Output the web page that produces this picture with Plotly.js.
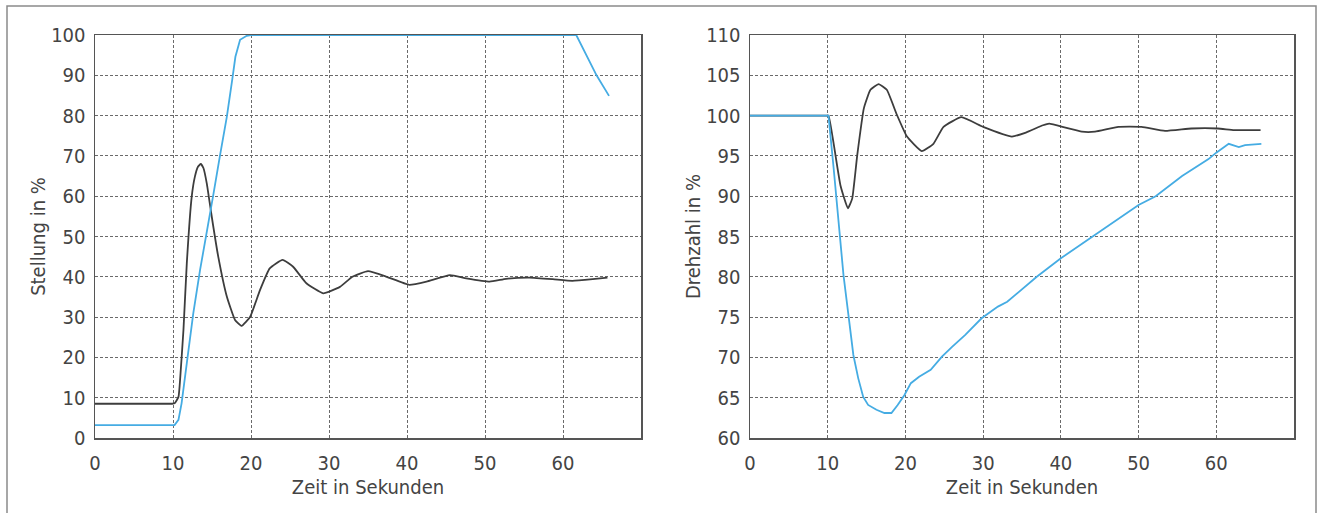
<!DOCTYPE html>
<html>
<head>
<meta charset="utf-8">
<script src="https://cdn.plot.ly/plotly-3.0.1.min.js"></script>
<style>html,body{margin:0;padding:0;background:#fff;}#chart{width:1320px;height:513px;}</style>
</head>
<body>
<div id="chart"></div>
<script>
// Left chart: Stellung (position) in %
const leftBlackT = [0, 3, 6, 9, 9.9, 10.2, 10.7, 11.0, 11.34, 11.77, 12.4, 12.8, 13.2, 13.56, 13.9, 14.33, 14.97, 15.8, 16.9, 17.95, 18.8, 19.9, 21.15, 22.4, 24.05, 25.4, 27.1, 29.25, 31.4, 33.0, 35.0, 37.4, 40.3, 42.5, 45.5, 47.6, 50.6, 52.7, 55.7, 58.7, 61.2, 63.8, 65.7];
const leftBlackV = [8.5, 8.5, 8.5, 8.5, 8.5, 8.6, 10.2, 17, 26.8, 43.4, 59.9, 64.8, 67.3, 68.0, 67.0, 63.2, 54.9, 45.0, 35.1, 29.3, 27.8, 30.1, 36.7, 42.1, 44.2, 42.5, 38.4, 35.9, 37.5, 40.0, 41.4, 40.0, 38.0, 38.8, 40.4, 39.6, 38.8, 39.5, 39.8, 39.4, 39.0, 39.4, 39.8];
const leftBlueT = [0, 10.2, 10.7, 11.1, 11.77, 12.6, 13.47, 14.33, 15.2, 16.0, 16.9, 17.6, 18.0, 18.6, 19.45, 20.0, 61.7, 64.3, 65.9];
const leftBlueV = [3.2, 3.2, 4.5, 8.6, 18.6, 30.9, 41.7, 50.8, 60.7, 69.8, 79.7, 89.0, 94.6, 98.8, 99.8, 100, 100, 90, 84.9];

// Right chart: Drehzahl (speed) in %
const rightBlackT = [0, 3, 6, 9, 9.8, 10.1, 10.8, 11.65, 12.6, 13.15, 13.8, 14.65, 15.5, 16.55, 17.6, 18.9, 20.2, 22.1, 23.6, 24.9, 27.2, 30.0, 33.7, 35.5, 37.7, 38.5, 40.6, 42.7, 44.4, 47.4, 50.4, 53.4, 56.8, 60.2, 62.3, 65.7];
const rightBlackV = [100, 100, 100, 100, 100, 100, 96.3, 91.3, 88.5, 89.7, 95.1, 100.9, 103.2, 103.9, 103.2, 100.1, 97.4, 95.6, 96.5, 98.6, 99.8, 98.6, 97.4, 97.9, 98.8, 99.0, 98.5, 98.0, 98.0, 98.6, 98.6, 98.1, 98.4, 98.4, 98.2, 98.2];
const rightBlueT = [0, 10.1, 10.76, 11.4, 12.03, 12.66, 13.3, 13.93, 14.57, 15.2, 16.27, 17.3, 18.2, 19.0, 19.86, 20.7, 21.76, 23.25, 24.7, 26.0, 27.7, 29.8, 31.9, 33.1, 36.9, 40.0, 44.1, 47.5, 50.0, 52.2, 55.6, 59.0, 60.0, 61.6, 62.0, 62.9, 63.7, 65.8];
const rightBlueV = [100, 100, 93.5, 86.85, 80.2, 75.3, 70.3, 67.4, 65.1, 64.1, 63.5, 63.1, 63.1, 64.1, 65.3, 66.8, 67.6, 68.45, 70.1, 71.3, 72.8, 74.85, 76.3, 76.9, 80.0, 82.3, 85.0, 87.3, 88.9, 90.0, 92.5, 94.6, 95.4, 96.5, 96.4, 96.1, 96.35, 96.5];

const xTicks = [0, 10, 20, 30, 40, 50, 60];
const leftYTicks = [0, 10, 20, 30, 40, 50, 60, 70, 80, 90, 100];
const rightYTicks = [60, 65, 70, 75, 80, 85, 90, 95, 100, 105, 110];
const xTitle = 'Zeit in Sekunden';
const leftYTitle = 'Stellung in %';
const rightYTitle = 'Drehzahl in %';

const BLACK = '#3d3d3d';
const BLUE = '#45ace3';
const FONT = 'DejaVu Sans Condensed, Liberation Sans Narrow, Roboto Condensed, DejaVu Sans, sans-serif';

const traces = [
  {x: leftBlackT, y: leftBlackV, xaxis: 'x', yaxis: 'y', mode: 'lines', line: {color: BLACK, width: 1.8, shape: 'spline', smoothing: 0.4}, hoverinfo: 'skip'},
  {x: leftBlueT, y: leftBlueV, xaxis: 'x', yaxis: 'y', mode: 'lines', line: {color: BLUE, width: 1.8}, hoverinfo: 'skip'},
  {x: rightBlackT, y: rightBlackV, xaxis: 'x2', yaxis: 'y2', mode: 'lines', line: {color: BLACK, width: 1.8, shape: 'spline', smoothing: 0.4}, hoverinfo: 'skip'},
  {x: rightBlueT, y: rightBlueV, xaxis: 'x2', yaxis: 'y2', mode: 'lines', line: {color: BLUE, width: 1.8}, hoverinfo: 'skip'}
];

function xAxis(domain, anchor) {
  return {
    domain: domain, anchor: anchor, range: [0, 70], tickvals: xTicks,
    showgrid: true, gridcolor: '#6a6a6a', gridwidth: 1, griddash: '3px,2px',
    zeroline: false, showline: true, mirror: true, linecolor: '#555', linewidth: 1.5,
    ticks: '', ticklabelstandoff: 6,
    tickfont: {family: FONT, size: 20, color: '#444'},
    title: {text: xTitle, font: {family: FONT, size: 20, color: '#444'}, standoff: 5},
    automargin: false, fixedrange: true
  };
}
function yAxis(domain, anchor, range, ticks, title) {
  return {
    domain: domain, anchor: anchor, range: range, tickvals: ticks,
    showgrid: true, gridcolor: '#6a6a6a', gridwidth: 1, griddash: '3px,2px',
    zeroline: false, showline: true, mirror: true, linecolor: '#555', linewidth: 1.5,
    ticks: '', ticklabelstandoff: 4,
    tickfont: {family: FONT, size: 20, color: '#444'},
    title: {text: title, font: {family: FONT, size: 20, color: '#444'}, standoff: 0},
    automargin: false, fixedrange: true
  };
}

const yDom = [(513 - 438) / 513, (513 - 35) / 513];
const layout = {
  width: 1320, height: 513,
  margin: {l: 0, r: 0, t: 0, b: 0},
  paper_bgcolor: '#ffffff', plot_bgcolor: '#ffffff',
  showlegend: false,
  xaxis: xAxis([95 / 1320, 641 / 1320], 'y'),
  yaxis: yAxis(yDom, 'x', [0, 100], leftYTicks, leftYTitle),
  xaxis2: xAxis([750 / 1320, 1294 / 1320], 'y2'),
  yaxis2: yAxis(yDom, 'x2', [60, 110], rightYTicks, rightYTitle),
  shapes: [
    {type: 'rect', xref: 'paper', yref: 'paper', x0: 7 / 1320, x1: 1316 / 1320, y0: -0.2, y1: (513 - 6) / 513,
     line: {color: '#8a8a8a', width: 1.5}, fillcolor: 'rgba(0,0,0,0)', layer: 'below'}
  ]
};

Plotly.newPlot('chart', traces, layout, {displayModeBar: false, staticPlot: true});
</script>
</body>
</html>
